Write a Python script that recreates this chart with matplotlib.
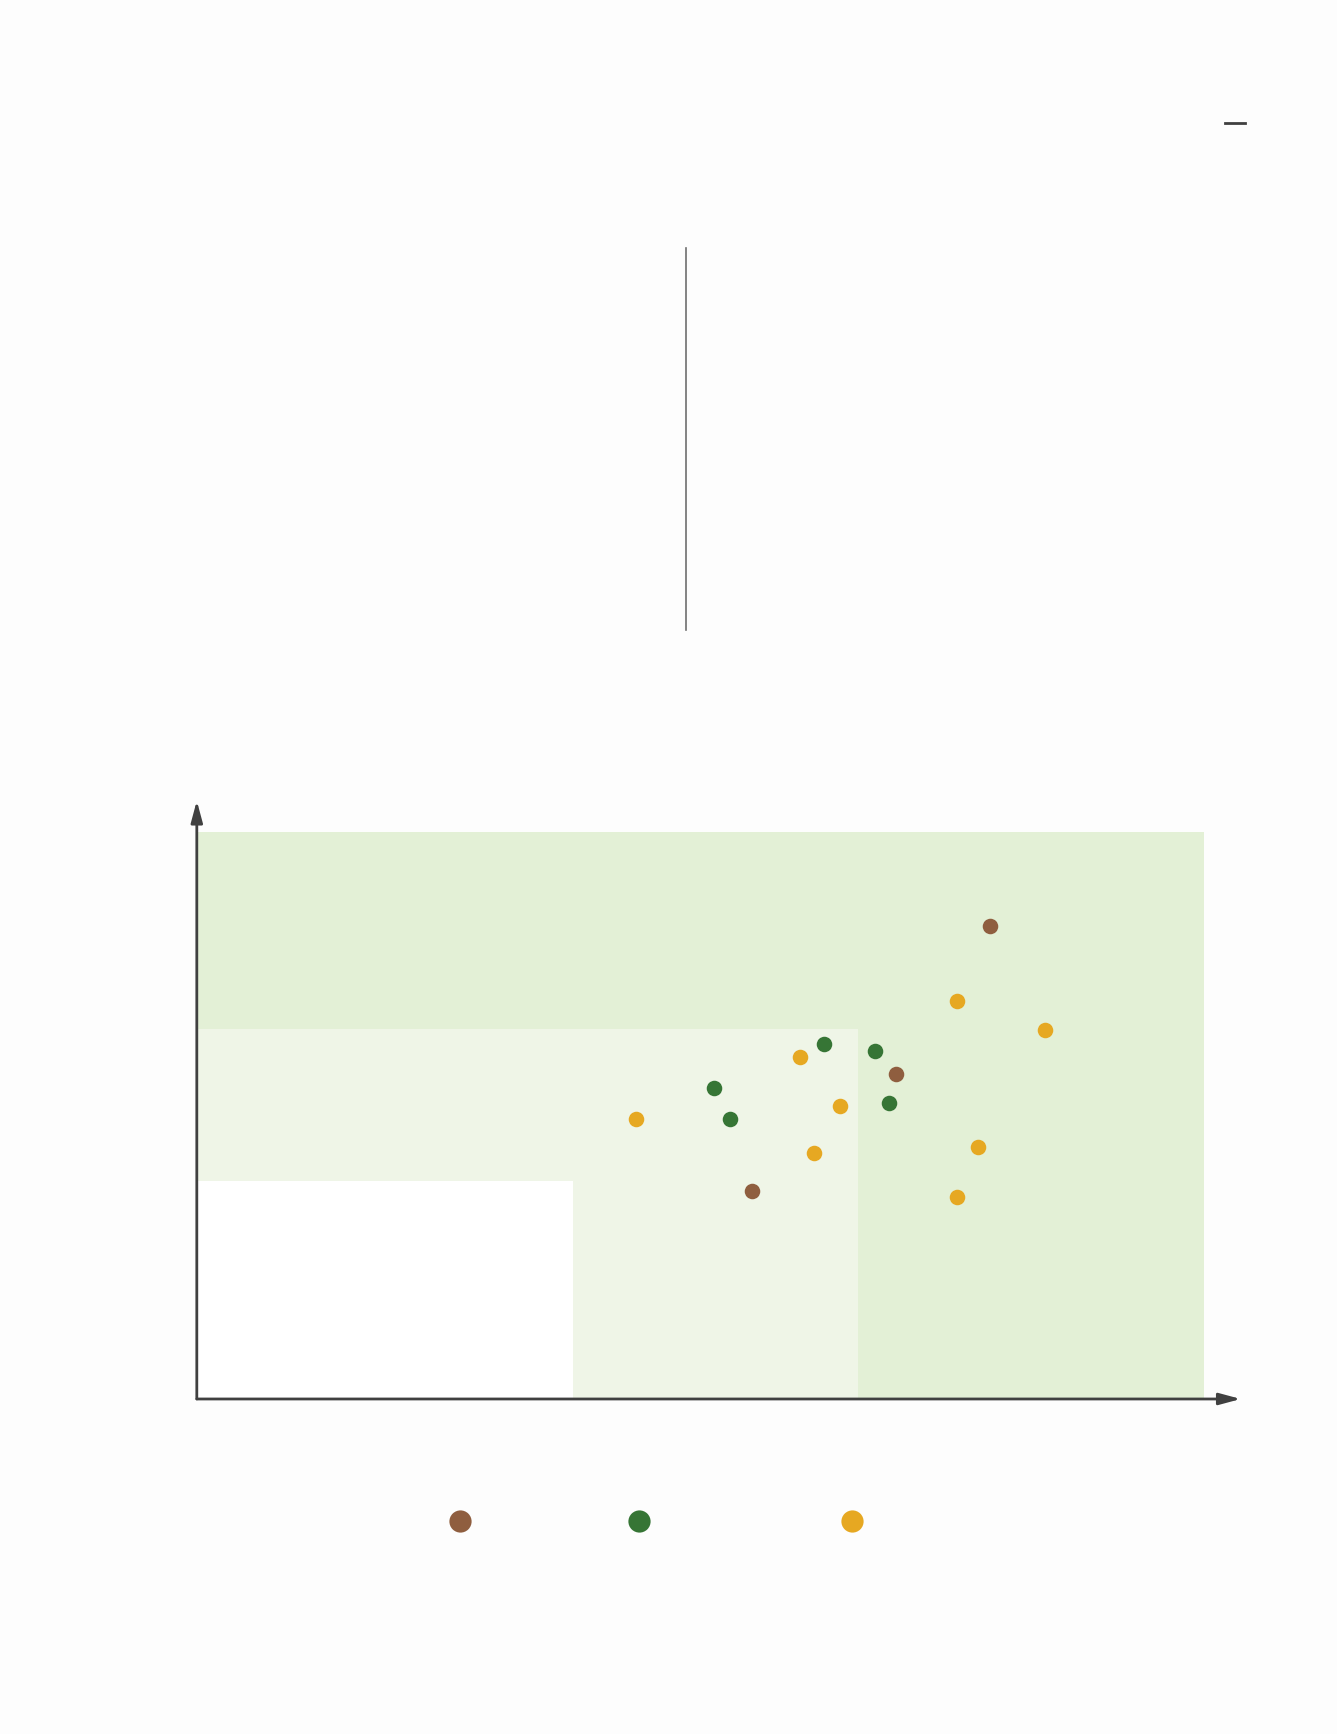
import matplotlib
matplotlib.use("Agg")
import matplotlib.pyplot as plt
from matplotlib.lines import Line2D
from matplotlib.patches import Rectangle

#données des points (x, y)
brown_x = [7.87, 6.94, 5.51]
brown_y = [8.34, 5.73, 3.66]
green_x = [6.22, 6.73, 5.13, 5.29, 6.87]
green_y = [6.26, 6.14, 5.48, 4.93, 5.22]
yellow_x = [7.54, 8.42, 5.99, 6.38, 4.36, 6.13, 7.75, 7.54]
yellow_y = [7.02, 6.51, 6.03, 5.17, 4.93, 4.33, 4.44, 3.57]

#zones (largeur, hauteur) depuis l'origine
zones = [(10.0, 10.0, "#e3f0d6"), (6.56, 6.53, "#eff5e7"), (3.73, 3.84, "#ffffff")]

c_brown, c_green, c_yellow = "#8f5e3f", "#367535", "#e6a822"
c_axis = "#404040"

fig = plt.figure(figsize=(13.37, 17.34), dpi=100)
fig.patch.set_facecolor("#fdfdfd")

ax = fig.add_axes([0.1472, 0.1932, 0.7808, 0.345])
ax.set_xlim(0, 10.36)
ax.set_ylim(0, 10.55)
ax.set_facecolor("none")
for s in ax.spines.values():
    s.set_visible(False)
ax.set_xticks([])
ax.set_yticks([])

for w, h, c in zones:
    ax.add_patch(Rectangle((0, 0), w, h, facecolor=c, edgecolor="none", zorder=1))

ax.scatter(brown_x, brown_y, s=125, color=c_brown, zorder=3, linewidths=0)
ax.scatter(green_x, green_y, s=125, color=c_green, zorder=3, linewidths=0)
ax.scatter(yellow_x, yellow_y, s=125, color=c_yellow, zorder=3, linewidths=0)

#axes avec flèches
arrow = dict(arrowstyle="-|>,head_length=1.3,head_width=0.35", color=c_axis, lw=2,
             mutation_scale=10, shrinkA=0, shrinkB=0)
ax.annotate("", xy=(1, 0), xytext=(0, 0), xycoords="axes fraction", arrowprops=arrow, zorder=4)
ax.annotate("", xy=(0, 1), xytext=(0, 0), xycoords="axes fraction", arrowprops=arrow, zorder=4)

#séparateur vertical et tiret en haut
fig.add_artist(Line2D([0.5129, 0.5129], [1 - 247.7 / 1734, 1 - 630.4 / 1734], color="#6f6f6f", lw=1.2))
fig.add_artist(Line2D([1225 / 1337, 1245 / 1337], [1 - 122.8 / 1734] * 2, color=c_axis, lw=2))

#légende
for xf, c in [(0.344, c_brown), (0.478, c_green), (0.637, c_yellow)]:
    fig.add_artist(Line2D([xf], [0.1231], marker="o", markersize=16, color=c, markeredgewidth=0, linestyle="none"))

fig.savefig("out.png", dpi=100, facecolor=fig.get_facecolor())
